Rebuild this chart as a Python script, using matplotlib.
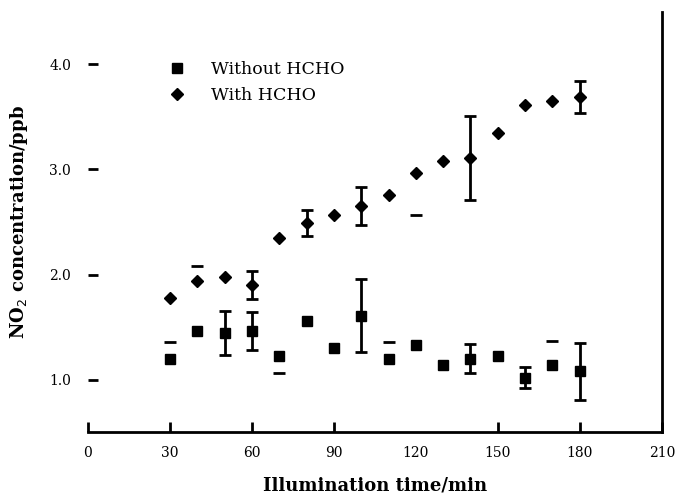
import matplotlib
matplotlib.use('Agg')
import matplotlib.pyplot as plt

nan = float('nan')

# illumination time (min)
time_min = [30, 40, 50, 60, 70, 80, 90, 100, 110, 120, 130, 140, 150, 160, 170, 180]

# NO2 concentration (ppb), error bars read as lower / upper lengths
no_hcho = [1.20, 1.46, 1.44, 1.46, 1.22, 1.56, 1.30, 1.61, 1.20, 1.33, 1.14, 1.20, 1.22, 1.02, 1.14, 1.08]
no_hcho_lo = [nan, nan, 0.21, 0.18, 0.16, nan, nan, 0.35, nan, nan, nan, 0.14, nan, 0.10, nan, 0.27]
no_hcho_hi = [0.16, nan, 0.21, 0.18, nan, nan, nan, 0.35, 0.16, nan, nan, 0.14, nan, 0.10, 0.23, 0.27]

with_hcho = [1.78, 1.94, 1.98, 1.90, 2.35, 2.49, 2.57, 2.65, 2.76, 2.97, 3.08, 3.11, 3.35, 3.61, 3.65, 3.69]
with_hcho_lo = [nan, nan, nan, 0.13, nan, 0.12, nan, 0.18, nan, 0.40, nan, 0.40, nan, nan, nan, 0.15]
with_hcho_hi = [nan, 0.14, nan, 0.13, nan, 0.12, nan, 0.18, nan, nan, nan, 0.40, nan, nan, nan, 0.15]

x_ticks = [0, 30, 60, 90, 120, 150, 180, 210]
y_ticks = [1.0, 2.0, 3.0, 4.0]

plt.rcParams['font.family'] = ['DejaVu Serif']

fig = plt.figure(figsize=(6.76, 4.95), dpi=100)
ax = fig.add_axes([0.130, 0.127, 0.849, 0.849])

# error bars (no markers), then the points themselves
ax.errorbar(time_min, no_hcho, yerr=[no_hcho_lo, no_hcho_hi], fmt='none', ecolor='black',
            elinewidth=2, capsize=4, capthick=2)
ax.errorbar(time_min, with_hcho, yerr=[with_hcho_lo, with_hcho_hi], fmt='none', ecolor='black',
            elinewidth=2, capsize=4, capthick=2)
ax.plot(time_min, no_hcho, 's', color='black', markersize=6.5, label='Without HCHO')
ax.plot(time_min, with_hcho, 'D', color='black', markersize=6, label='With HCHO')

ax.set_xlim(0, 210)
ax.set_ylim(0.5, 4.5)
ax.set_xticks(x_ticks)
ax.set_xticklabels([str(v) for v in x_ticks])
ax.set_yticks(y_ticks)
ax.set_yticklabels([f"{v:.1f}" for v in y_ticks])

ax.spines['left'].set_visible(False)
ax.spines['top'].set_visible(False)
ax.spines['bottom'].set_linewidth(2)
ax.spines['right'].set_linewidth(2)

ax.tick_params(axis='x', direction='in', length=7, width=2, pad=10, labelsize=10)
ax.tick_params(axis='y', direction='in', length=7, width=2, pad=12, labelsize=10)
ax.xaxis.get_major_ticks()[4].tick1line.set_visible(False)

ax.set_xlabel('Illumination time/min', fontsize=13, fontweight='bold', labelpad=12)
ax.set_ylabel(r'NO$_2$ concentration/ppb', fontsize=13, fontweight='bold', labelpad=14)

ax.legend(loc='upper left', bbox_to_anchor=(0.105, 0.92), frameon=False,
          fontsize=12.5, handletextpad=1.2, labelspacing=0.5, handlelength=1.5)

plt.savefig('out.png', dpi=100)
plt.close()
